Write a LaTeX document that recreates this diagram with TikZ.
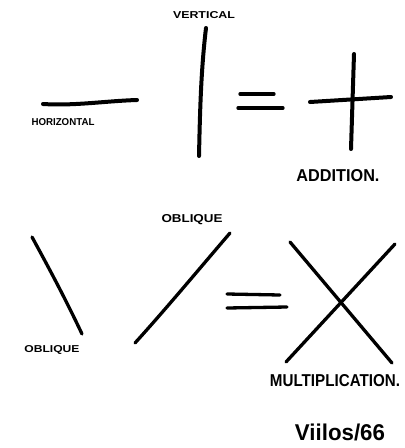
\documentclass[tikz,border=0pt]{standalone}
\usepackage{fontspec}
\setmainfont{Liberation Sans}
\usepackage{graphicx}
\newcommand{\handtext}[3]{\resizebox{#1}{#2}{\bfseries #3}}
\begin{document}
\begin{tikzpicture}[x=1pt,y=-1pt,
  heavy/.style={line width=4.0pt, line cap=round, black},
  medium/.style={line width=3.3pt, line cap=round, black},
  lbl/.style={inner sep=0pt, anchor=center}]
\useasboundingbox[fill=white] (0,0) rectangle (405,448);
% ---- top row: horizontal + vertical = addition
\draw[heavy] (43,104) .. controls (75,106) and (105,101) .. (137,100);
\draw[heavy] (206,28) .. controls (201,70) and (200,110) .. (199,156);
\draw[medium] (240,94) -- (274,94);
\draw[medium] (238,108) -- (283,108);
\draw[heavy] (310,102) -- (391,97);
\draw[heavy] (354,54) -- (351,149);
\node[lbl] (vert) at (204,15) {\handtext{62pt}{7pt}{VERTICAL}};
\node[lbl] (hori) at (63,122) {\handtext{63pt}{7pt}{HORIZONTAL}};
\node[lbl] (add) at (338,176) {\handtext{83pt}{12pt}{ADDITION.}};
% ---- bottom row: oblique + oblique = multiplication
\draw[medium] (32,237) .. controls (50,270) and (66,300) .. (82,334);
\draw[medium] (135,343) .. controls (165,310) and (200,268) .. (230,233);
\draw[medium] (227,294) -- (280,295);
\draw[medium] (227,308) -- (287,307);
\draw[medium] (290,242) -- (392,363);
\draw[medium] (395,244) -- (286,362);
\node[lbl] (obl1) at (192,220) {\handtext{61pt}{8pt}{OBLIQUE}};
\node[lbl] (obl2) at (52,350) {\handtext{55pt}{7pt}{OBLIQUE}};
\node[lbl] (mult) at (335,381) {\handtext{130pt}{12pt}{MULTIPLICATION.}};
\node[lbl] (sign) at (340,432) {\resizebox*{90pt}{17pt}{\bfseries Viilos/66}};
\end{tikzpicture}
\end{document}
